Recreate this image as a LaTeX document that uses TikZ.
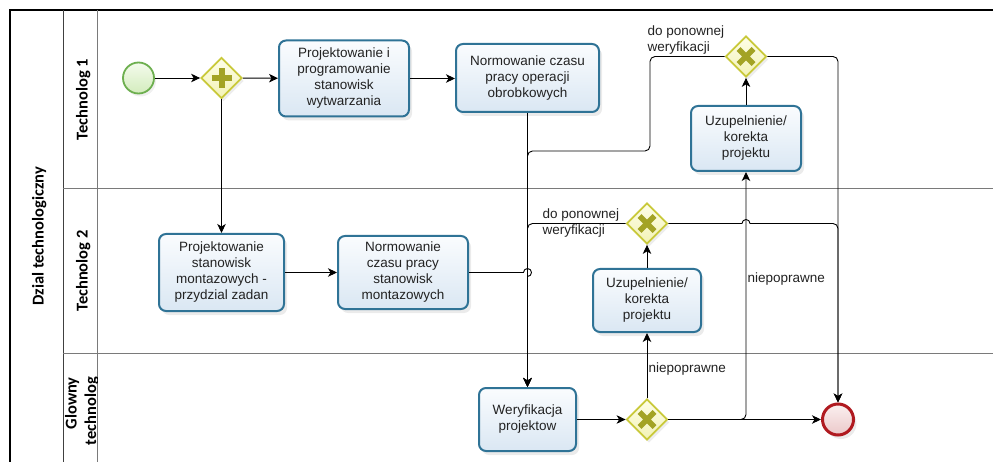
\documentclass[tikz,border=0pt]{standalone}
\usepackage{fontspec}
\setmainfont{Liberation Sans}
\newfontfamily\lanefont{Carlito}
\usetikzlibrary{arrows.meta,shapes.geometric,shadows}

\definecolor{taskline}{HTML}{2F7396}
\definecolor{tasktop}{HTML}{FAFCFE}
\definecolor{taskbot}{HTML}{DAE7F3}
\definecolor{gwline}{HTML}{C9C93A}
\definecolor{gwtop}{HTML}{FEFEE8}
\definecolor{gwbot}{HTML}{F2F2B6}
\definecolor{gwmark}{HTML}{A3A325}
\definecolor{startline}{HTML}{6DAF4F}
\definecolor{starttop}{HTML}{F4FBEC}
\definecolor{startbot}{HTML}{D3ECBD}
\definecolor{endline}{HTML}{B01A20}
\definecolor{endtop}{HTML}{FBF0F0}
\definecolor{endbot}{HTML}{EBC8C9}
\definecolor{laneline}{HTML}{7A7A7A}
\definecolor{inktext}{HTML}{222222}

\tikzset{
  task/.style={rectangle, rounded corners=7pt, draw=taskline, line width=2pt,
    top color=tasktop, bottom color=taskbot, align=center, text=inktext,
    font=\fontsize{13.5}{16}\selectfont, inner sep=0pt,
    drop shadow={opacity=0.16, shadow xshift=3pt, shadow yshift=-4pt}},
  gateway/.style={diamond, minimum width=41pt, minimum height=41pt, inner sep=0pt,
    draw=gwline, line width=1.8pt, top color=gwtop, bottom color=gwbot,
    drop shadow={opacity=0.14, shadow xshift=2pt, shadow yshift=-3pt}},
  andgw/.style={gateway, path picture={
    \draw[gwmark, line width=6pt]
      ([xshift=-10pt]path picture bounding box.center) -- ([xshift=10pt]path picture bounding box.center)
      ([yshift=-10pt]path picture bounding box.center) -- ([yshift=10pt]path picture bounding box.center);}},
  xorgw/.style={gateway, path picture={
    \draw[gwmark, line width=5.5pt]
      ([shift={(-7.5pt,-7.5pt)}]path picture bounding box.center) -- ([shift={(7.5pt,7.5pt)}]path picture bounding box.center)
      ([shift={(-7.5pt,7.5pt)}]path picture bounding box.center) -- ([shift={(7.5pt,-7.5pt)}]path picture bounding box.center);}},
  startev/.style={circle, minimum size=31pt, inner sep=0pt, draw=startline, line width=1.8pt,
    top color=starttop, bottom color=startbot,
    drop shadow={opacity=0.12, shadow xshift=2pt, shadow yshift=-3pt}},
  endev/.style={circle, minimum size=31pt, inner sep=0pt, draw=endline, line width=3pt,
    top color=endtop, bottom color=endbot,
    drop shadow={opacity=0.16, shadow xshift=3pt, shadow yshift=-4pt}},
  flow/.style={draw=black, line width=0.9pt, -{Stealth[length=9pt,width=8.5pt,inset=2.5pt]}},
  lbl/.style={inner sep=0pt, text=inktext, font=\fontsize{13.5}{16}\selectfont},
  lanelbl/.style={inner sep=0pt, rotate=90, text=black, font=\lanefont\bfseries\fontsize{16.5}{20}\selectfont},
  border/.style={draw=black, line width=1.2pt},
  divider/.style={draw=laneline, line width=1pt}
}

\begin{document}
\begin{tikzpicture}[x=1pt,y=-1pt]
\useasboundingbox (0,0) rectangle (993,462);

% pool and lanes
\draw[border] (993,10) -- (10,10) -- (10,462);
\draw[draw=black!75, line width=1pt] (63,10) -- (63,462);
\draw[divider] (97,10) -- (97,462);
\draw[divider] (63,189) -- (993,189);
\draw[divider] (63,353) -- (993,353);

\node[lanelbl, anchor=base] (pool) at (43.5,236.5) {Dzial technologiczny};
\node[lanelbl, anchor=base] (lane1) at (87.5,99.5) {Technolog 1};
\node[lanelbl, anchor=base] (lane2) at (87.5,271) {Technolog 2};
\begin{scope}
  \clip (63,353) rectangle (97,462);
  \node[lanelbl, anchor=base east] (lane3a) at (76.5,377) {Glowny};
  \node[lanelbl, anchor=base east] (lane3b) at (96,377) {technolog};
\end{scope}

% events, gateways and tasks
\node[startev] (start) at (138.5,78) {};
\node[andgw] (gw0) at (221.5,78) {};
\node[task, minimum width=130pt, minimum height=76pt] (t1) at (344,78.5)
  {Projektowanie i\\programowanie\\stanowisk\\wytwarzania};
\node[task, minimum width=143pt, minimum height=68pt] (t2) at (527.5,78)
  {Normowanie czasu\\pracy operacji\\obrobkowych};
\node[task, minimum width=125pt, minimum height=77pt] (t3) at (221.5,272.5)
  {Projektowanie\\stanowisk\\montazowych -\\przydzial zadan};
\node[task, minimum width=130pt, minimum height=73pt] (t4) at (403,272.5)
  {Normowanie\\czasu pracy\\stanowisk\\montazowych};
\node[task, minimum width=97pt, minimum height=63pt] (wer) at (527.5,419.5)
  {Weryfikacja\\projektow};
\node[xorgw] (gw3) at (647,419.5) {};
\node[task, minimum width=108pt, minimum height=63pt] (uz2) at (647,300.5)
  {Uzupelnienie/\\korekta\\projektu};
\node[xorgw] (gw2) at (647,223.5) {};
\node[task, minimum width=110pt, minimum height=65pt] (uz1) at (746,138.5)
  {Uzupelnienie/\\korekta\\projektu};
\node[xorgw] (gw1) at (746,56.5) {};
\node[endev] (end) at (838,419.5) {};
\coordinate (bend1) at (650,151);

% sequence flows
\draw[flow] (start) -- (gw0);
\draw[flow] (gw0) -- (t1);
\draw[flow] (t1.east) -- (t1.east -| t2.west);
\draw[flow] (gw0) -- (t3);
\draw[flow] (t3) -- (t4);
\draw[flow] (t2) -- (wer);
\draw[flow] (t4.east) -- ([xshift=-4pt]t4.east -| wer.north)
  arc[start angle=180,end angle=90,radius=4pt]
  arc[start angle=90,end angle=-90,radius=4pt] -- (wer.north);
\draw[flow] (wer) -- (gw3);
\draw[flow] (gw3) -- (uz2);
\draw[flow] (uz2) -- (gw2);
\draw[flow, rounded corners=5pt] (gw2.west) -| (wer.north);
\draw[flow] (gw2.east) -- ([xshift=-4pt]gw2.east -| uz1.south)
  arc[start angle=180,end angle=0,radius=4pt] -- ++(6pt,0)
  [rounded corners=5pt] -| (end.north);
\draw[flow] (gw3) -- (end);
\draw[flow, rounded corners=5pt] (gw3.east) -| (uz1.south);
\draw[flow] (uz1) -- (gw1);
\draw[flow, rounded corners=5pt] (gw1.west) -| (bend1) -| (wer.north);
\draw[flow, rounded corners=5pt] (gw1.east) -| (end.north);

% flow labels
\node[lbl, anchor=north west, align=left] (redo1) at (647.5,25.5) {do ponownej\\weryfikacji};
\node[lbl, anchor=north west, align=left] (redo2) at (542.5,209) {do ponownej\\weryfikacji};
\node[lbl, anchor=base west] (bad1) at (648.5,372) {niepoprawne};
\node[lbl, anchor=base west] (bad2) at (747.5,283) {niepoprawne};
\end{tikzpicture}
\end{document}
